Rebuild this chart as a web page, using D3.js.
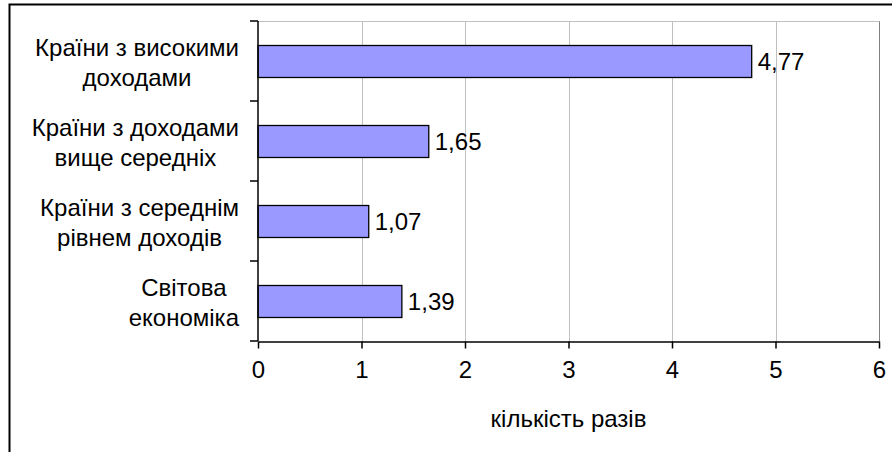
<!DOCTYPE html>
<html>
<head>
<meta charset="utf-8">
<script src="https://cdn.jsdelivr.net/npm/d3@7"></script>
<style>
  body { margin: 0; background: #fff; }
  svg text { font-family: "Liberation Sans", Arial, sans-serif; fill: #000; }
</style>
</head>
<body>
<div id="chart"></div>
<script>
// Bar chart: кількість разів by income group

const categories = [
    ['Країни з високими', 'доходами'],
    ['Країни з доходами', 'вище середніх'],
    ['Країни з середнім', 'рівнем доходів'],
    ['Світова', 'економіка']
];
const values = [4.77, 1.65, 1.07, 1.39];
const xTicks = [0, 1, 2, 3, 4, 5, 6];
const axisTitle = 'кількість разів';

const W = 892, H = 452;
const plot = { left: 258, right: 879, top: 21, bottom: 341 };
const fontSize = '24px';
const labelRight = 239;

const svg = d3.select('#chart')
    .append('svg')
    .attr('width', W)
    .attr('height', H);

// outer frame (cut off at right and bottom)
svg.append('rect')
    .attr('x', 9.5)
    .attr('y', 4.5)
    .attr('width', W + 10)
    .attr('height', H + 10)
    .attr('fill', 'none')
    .attr('stroke', '#000')
    .attr('stroke-width', 2);

const x = d3.scaleLinear()
    .domain([0, 6])
    .range([plot.left, plot.right]);

const y = d3.scaleBand()
    .domain(d3.range(categories.length))
    .range([plot.top, plot.bottom])
    .paddingInner(0.6)
    .paddingOuter(0.3);

const yOuter = d3.scaleBand()
    .domain(d3.range(categories.length))
    .range([plot.top, plot.bottom]);

// gridlines
svg.append('g')
    .selectAll('line')
    .data(xTicks.slice(1))
    .enter()
    .append('line')
    .attr('x1', d => Math.round(x(d)) + 0.5)
    .attr('x2', d => Math.round(x(d)) + 0.5)
    .attr('y1', plot.top)
    .attr('y2', plot.bottom)
    .attr('stroke', d => d === 6 ? '#808080' : '#c0c0c0')
    .attr('stroke-width', 1);

// plot area top border
svg.append('line')
    .attr('x1', plot.left)
    .attr('x2', plot.right + 0.5)
    .attr('y1', plot.top + 0.5)
    .attr('y2', plot.top + 0.5)
    .attr('stroke', '#c0c0c0');

// bars
svg.append('g')
    .selectAll('rect')
    .data(values)
    .enter()
    .append('rect')
    .attr('x', x(0))
    .attr('y', (d, i) => Math.round(y(i)) + 0.5)
    .attr('width', d => x(d) - x(0))
    .attr('height', Math.round(y.bandwidth()))
    .attr('fill', '#9999ff')
    .attr('stroke', '#000')
    .attr('stroke-width', 1.3);

// value labels
svg.append('g')
    .selectAll('text')
    .data(values)
    .enter()
    .append('text')
    .attr('x', d => x(d) + 6)
    .attr('y', (d, i) => y(i) + y.bandwidth() / 2 + 9)
    .style('font-size', fontSize)
    .text(d => d3.format('.2f')(d).replace('.', ','));

// x axis
const xAxis = svg.append('g')
    .attr('transform', `translate(0, ${plot.bottom + 0.5})`)
    .call(d3.axisBottom(x).tickValues(xTicks).tickFormat(d3.format('d'))
        .tickSize(7).tickPadding(12).tickSizeOuter(0));
xAxis.select('.domain').attr('stroke', '#000').attr('stroke-width', 1.5);
xAxis.selectAll('.tick line').attr('stroke', '#000').attr('stroke-width', 1.5);
xAxis.selectAll('.tick text')
    .style('font-size', fontSize)
    .attr('font-family', null);

// y axis
const yAxisG = svg.append('g')
    .attr('transform', `translate(${plot.left}, 0)`);
yAxisG.append('line')
    .attr('x1', 0).attr('x2', 0)
    .attr('y1', plot.top).attr('y2', plot.bottom)
    .attr('stroke', '#000').attr('stroke-width', 1.5);
yAxisG.selectAll('.ytick')
    .data(d3.range(categories.length + 1))
    .enter()
    .append('line')
    .attr('x1', -8).attr('x2', 0)
    .attr('y1', i => i < categories.length ? yOuter(i) : plot.bottom)
    .attr('y2', i => i < categories.length ? yOuter(i) : plot.bottom)
    .attr('stroke', '#000').attr('stroke-width', 1.5);

// category labels: lines centred within a block that is right-aligned to the axis
const catG = svg.append('g');
categories.forEach((lines, i) => {
    const cy = yOuter(i) + yOuter.bandwidth() / 2;
    const t = catG.append('text')
        .attr('text-anchor', 'middle')
        .style('font-size', fontSize);
    const spans = lines.map((ln, j) => t.append('tspan')
        .attr('y', cy - 5 + j * 30)
        .text(ln));
    const maxW = d3.max(spans, s => s.node().getComputedTextLength());
    spans.forEach(s => s.attr('x', labelRight - maxW / 2));
});

// axis title
svg.append('text')
    .attr('x', (plot.left + plot.right) / 2)
    .attr('y', 427)
    .attr('text-anchor', 'middle')
    .style('font-size', fontSize)
    .text(axisTitle);
</script>
</body>
</html>
